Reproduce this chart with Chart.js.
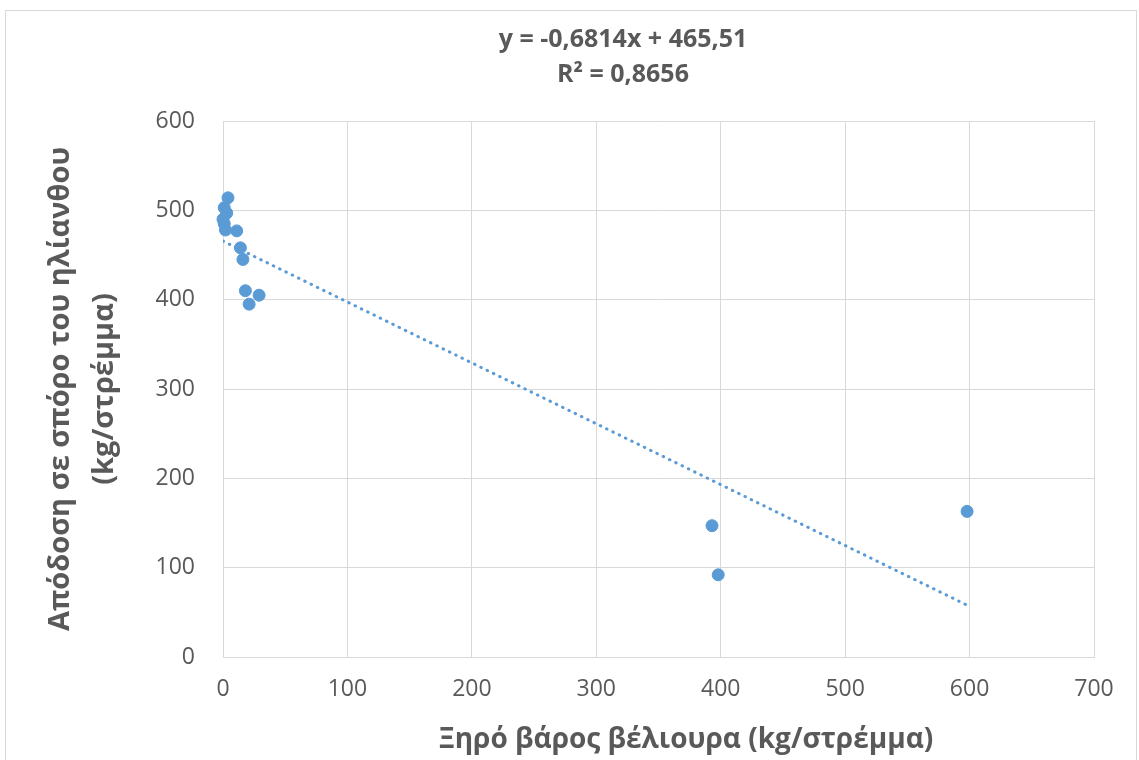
<!DOCTYPE html>
<html>
<head>
<meta charset="utf-8">
<script src="https://cdn.jsdelivr.net/npm/chart.js@4"></script>
<style>
  body { margin: 0; background: #fff; }
  #box { position: absolute; left: 5px; top: 10px; width: 1130px; height: 760px; border: 1px solid #d9d9d9; }
</style>
</head>
<body>
<div id="box"><canvas id="chart" width="1130" height="750"></canvas></div>
<script>
'use strict';

// Ξηρό βάρος βέλιουρα (x) και απόδοση ηλίανθου (y)
const xValues = [4, 1, 3, 0, 1, 2, 11, 14, 16, 18, 29, 21, 393, 398, 598];
const yValues = [514, 503, 497, 490, 485, 478, 477, 458, 445, 410, 405, 395, 147, 92, 163];
const xTicks = [0, 100, 200, 300, 400, 500, 600, 700];
const yTicks = [0, 100, 200, 300, 400, 500, 600];

// γραμμή τάσης
const trendSlope = -0.6814;
const trendIntercept = 465.51;
const trendLabel = ['y = -0,6814x + 465,51', 'R² = 0,8656'];
const xTitle = 'Ξηρό βάρος βέλιουρα (kg/στρέμμα)';

const points = xValues.map((x, i) => ({ x: x, y: yValues[i] }));
const xMax = Math.max(...xValues);
const trend = [
    { x: 0, y: trendIntercept },
    { x: xMax, y: trendSlope * xMax + trendIntercept }
];

const blue = '#5b9bd5';
const gray = '#595959';
const gridColor = '#d9d9d9';

// κείμενο εξίσωσης και τίτλος άξονα x
const labelsPlugin = {
    id: 'labels',
    afterDraw(chart) {
        const ctx = chart.ctx;
        ctx.save();
        ctx.fillStyle = gray;
        ctx.textAlign = 'center';
        ctx.textBaseline = 'middle';
        ctx.font = 'bold 25px "Open Sans"';
        ctx.fillText(trendLabel[0], 617, 29);
        ctx.fillText(trendLabel[1], 617, 64);
        ctx.font = 'bold 28px "Open Sans"';
        ctx.fillText(xTitle, 680, 729);
        ctx.restore();
    }
};

new Chart(document.getElementById('chart'), {
    type: 'scatter',
    data: {
        datasets: [{
            label: 'data',
            data: points,
            backgroundColor: blue,
            borderColor: blue,
            pointRadius: 6,
            pointHoverRadius: 6,
            clip: false,
            order: 1
        }, {
            type: 'line',
            label: 'trend',
            data: trend,
            borderColor: blue,
            borderWidth: 3,
            borderDash: [0.5, 6.5],
            borderCapStyle: 'round',
            pointRadius: 0,
            fill: false,
            order: 2
        }]
    },
    options: {
        responsive: false,
        animation: false,
        layout: {
            padding: { top: 110, right: 42, left: 0, bottom: 0 }
        },
        plugins: {
            legend: { display: false },
            tooltip: { enabled: false }
        },
        scales: {
            x: {
                type: 'linear',
                min: 0,
                max: 700,
                afterBuildTicks: (scale) => { scale.ticks = xTicks.map(v => ({ value: v })); },
                afterFit: (scale) => { scale.height = 104; },
                grid: { color: gridColor, drawTicks: false },
                border: { color: gridColor },
                ticks: {
                    color: gray,
                    font: { family: 'Open Sans', size: 23 },
                    padding: 19
                }
            },
            y: {
                type: 'linear',
                min: 0,
                max: 600,
                afterBuildTicks: (scale) => { scale.ticks = yTicks.map(v => ({ value: v })); },
                afterFit: (scale) => { scale.width = 217; },
                grid: { color: gridColor, drawTicks: false },
                border: { display: false },
                ticks: {
                    color: gray,
                    font: { family: 'Open Sans', size: 23 },
                    padding: 28
                },
                title: {
                    display: true,
                    text: ['Απόδοση σε σπόρο του ηλίανθου', '(kg/στρέμμα)'],
                    color: gray,
                    font: { family: 'Open Sans', size: 29, weight: 'bold', lineHeight: 1.5 },
                    padding: { top: 33, bottom: 0 }
                }
            }
        }
    },
    plugins: [labelsPlugin]
});
</script>
</body>
</html>
